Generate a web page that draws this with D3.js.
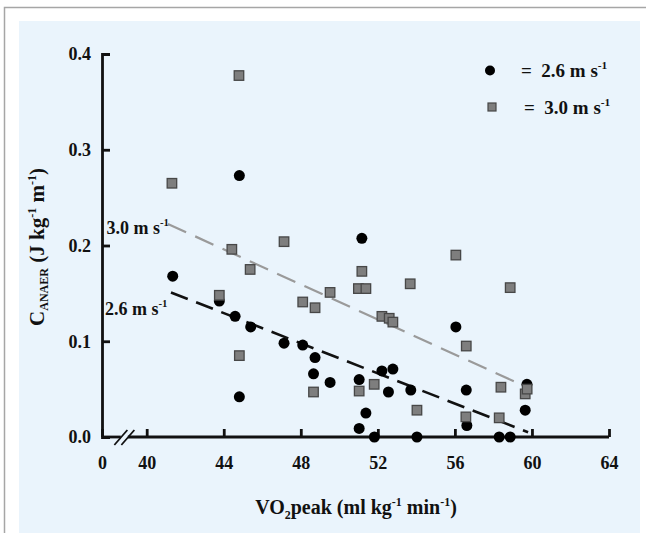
<!DOCTYPE html>
<html>
<head>
<meta charset="utf-8">
<script src="https://cdn.jsdelivr.net/npm/d3@7"></script>
<style>
  html, body { margin: 0; padding: 0; background: #fff; }
  svg { display: block; }
</style>
</head>
<body>
<div id="chart"></div>
<script>
// Data: CANAER vs VO2peak at two running speeds
const speed26X = [41.35, 43.77, 44.59, 44.81, 44.81, 45.40, 47.13, 48.10, 48.66, 48.74, 49.52,
                  51.03, 51.03, 51.17, 51.38, 51.82, 52.21, 52.55, 52.78, 53.71, 54.03,
                  56.05, 56.59, 56.62, 58.30, 58.87, 59.65, 59.74];
const speed26Y = [0.168, 0.142, 0.126, 0.273, 0.042, 0.115, 0.098, 0.096, 0.066, 0.083, 0.057,
                  0.060, 0.009, 0.2075, 0.025, 0.000, 0.069, 0.047, 0.071, 0.049, 0.000,
                  0.115, 0.049, 0.012, 0.000, 0.000, 0.028, 0.055];

const speed30X = [41.31, 43.77, 44.42, 44.79, 44.81, 45.37, 47.13, 48.10, 48.66, 48.74, 49.52,
                  50.99, 51.03, 51.17, 51.38, 51.81, 52.21, 52.59, 52.78, 53.68, 54.03,
                  56.05, 56.57, 56.59, 58.30, 58.39, 58.87, 59.65, 59.75];
const speed30Y = [0.265, 0.148, 0.196, 0.3775, 0.085, 0.175, 0.204, 0.141, 0.047, 0.135, 0.151,
                  0.155, 0.048, 0.173, 0.155, 0.055, 0.126, 0.124, 0.120, 0.160, 0.028,
                  0.190, 0.021, 0.095, 0.020, 0.052, 0.156, 0.045, 0.050];

// regression lines (end points)
const fit26X = [41.26, 59.8];
const fit26Y = [0.151, 0.005];
const fit30X = [41.1, 59.3];
const fit30Y = [0.2225, 0.056];

const xTicks = [0, 40, 44, 48, 52, 56, 60, 64];
const yTicks = [0, 0.1, 0.2, 0.3, 0.4];

const width = 646, height = 533;
const serif = "'Liberation Serif', 'Times New Roman', serif";

const svg = d3.select('#chart').append('svg')
    .attr('width', width)
    .attr('height', height);

// outer frame and light blue panel
svg.append('rect')
    .attr('x', 4.5).attr('y', 7.5)
    .attr('width', 660).attr('height', 560)
    .attr('fill', '#fff')
    .attr('stroke', '#a6a6a6')
    .attr('stroke-width', 1.5);
svg.append('rect')
    .attr('x', 19).attr('y', 21)
    .attr('width', 621).attr('height', 520)
    .attr('fill', '#eaf4fc');

// broken x scale: 0 then 40..64
const x = d3.scaleLinear().domain([0, 40, 64]).range([102, 146.7, 609]);
const y = d3.scaleLinear().domain([0, 0.4]).range([437, 54]);
const breakAt = 20;

// y axis
const yAxis = svg.append('g')
    .attr('transform', 'translate(' + x(0) + ',0)')
    .call(d3.axisLeft(y).tickValues(yTicks).tickFormat(d3.format('.1f'))
        .tickSize(-8).tickPadding(11));

// x axis (domain drawn by hand for the break)
const xAxis = svg.append('g')
    .attr('transform', 'translate(0,' + y(0) + ')')
    .call(d3.axisBottom(x).tickValues(xTicks).tickFormat(d3.format('d'))
        .tickSize(-8).tickSizeOuter(0).tickPadding(19));
xAxis.select('.domain').remove();

[yAxis, xAxis].forEach(function(g) {
    g.attr('font-family', serif).attr('font-size', 18).attr('font-weight', 'bold');
    g.selectAll('text').attr('fill', '#111');
    g.selectAll('line, path').attr('stroke', '#111').attr('stroke-width', 2.8);
});

const y0 = y(0);
const bx = x(breakAt);
svg.append('g').selectAll('line')
    .data([[x(0), bx - 3.5], [bx + 3.5, x(64)]])
    .enter().append('line')
    .attr('x1', function(d) { return d[0]; })
    .attr('x2', function(d) { return d[1]; })
    .attr('y1', y0).attr('y2', y0)
    .attr('stroke', '#111').attr('stroke-width', 2.8);
svg.append('g').selectAll('line')
    .data([bx - 3.5, bx + 3.5])
    .enter().append('line')
    .attr('x1', function(d) { return d - 6.5; })
    .attr('y1', y0 + 8)
    .attr('x2', function(d) { return d + 6.5; })
    .attr('y2', y0 - 7)
    .attr('stroke', '#111').attr('stroke-width', 1.8);

// regression lines
const line = d3.line()
    .x(function(d) { return x(d[0]); })
    .y(function(d) { return y(d[1]); });

svg.append('path')
    .datum(d3.zip(fit30X, fit30Y))
    .attr('d', line)
    .attr('fill', 'none')
    .attr('stroke', '#9a9a9a')
    .attr('stroke-width', 2.2)
    .attr('stroke-dasharray', '20,10');

svg.append('path')
    .datum(d3.zip(fit26X, fit26Y))
    .attr('d', line)
    .attr('fill', 'none')
    .attr('stroke', '#111')
    .attr('stroke-width', 2.6)
    .attr('stroke-dasharray', '18,9');

// points: circles first, squares on top
svg.append('g').selectAll('circle')
    .data(d3.zip(speed26X, speed26Y))
    .enter().append('circle')
    .attr('cx', function(d) { return x(d[0]); })
    .attr('cy', function(d) { return y(d[1]); })
    .attr('r', 5.5)
    .attr('fill', '#000');

const sq = 9.5;
svg.append('g').selectAll('rect')
    .data(d3.zip(speed30X, speed30Y))
    .enter().append('rect')
    .attr('x', function(d) { return x(d[0]) - sq / 2; })
    .attr('y', function(d) { return y(d[1]) - sq / 2; })
    .attr('width', sq).attr('height', sq)
    .attr('fill', '#7e7e7e')
    .attr('stroke', '#474747')
    .attr('stroke-width', 1.3);

// helper for "value m s-1" style labels
function unitLabel(g, px, py, str, size) {
    const t = g.append('text')
        .attr('x', px).attr('y', py)
        .attr('font-family', serif)
        .attr('font-weight', 'bold')
        .attr('font-size', size)
        .attr('fill', '#111');
    t.append('tspan').text(str);
    t.append('tspan').attr('dy', -8).attr('font-size', size * 0.6).text('-1');
    return t;
}

// line labels
unitLabel(svg, x(0) + 4.5, y(0.212), '3.0 m s', 18);
unitLabel(svg, x(0) + 3, y(0.127), '2.6 m s', 18);

// legend
const legend = svg.append('g');
legend.append('circle').attr('cx', 490).attr('cy', 70.5).attr('r', 5).attr('fill', '#000');
legend.append('rect').attr('x', 488).attr('y', 103).attr('width', 8).attr('height', 8)
    .attr('fill', '#7e7e7e').attr('stroke', '#474747').attr('stroke-width', 1.2);
unitLabel(legend, 521, 77, '=\u00a0\u00a02.6 m s', 19);
unitLabel(legend, 524, 114, '=\u00a0\u00a03.0 m s', 19);

// x title
const xt = svg.append('text')
    .attr('x', 356).attr('y', 514)
    .attr('text-anchor', 'middle')
    .attr('font-family', serif).attr('font-weight', 'bold')
    .attr('font-size', 20).attr('fill', '#111');
xt.append('tspan').text('VO');
xt.append('tspan').attr('dy', 5).attr('font-size', 12).text('2');
xt.append('tspan').attr('dy', -5).text('peak (ml kg');
xt.append('tspan').attr('dy', -8).attr('font-size', 12).text('-1');
xt.append('tspan').attr('dy', 8).text(' min');
xt.append('tspan').attr('dy', -8).attr('font-size', 12).text('-1');
xt.append('tspan').attr('dy', 8).text(')');

// y title
const yt = svg.append('text')
    .attr('transform', 'translate(44,247) rotate(-90)')
    .attr('text-anchor', 'middle')
    .attr('font-family', serif).attr('font-weight', 'bold')
    .attr('font-size', 21).attr('fill', '#111');
yt.append('tspan').text('C');
yt.append('tspan').attr('dy', 4).attr('font-size', 12).text('ANAER');
yt.append('tspan').attr('dy', -4).text(' (J kg');
yt.append('tspan').attr('dy', -8).attr('font-size', 12).text('-1');
yt.append('tspan').attr('dy', 8).text(' m');
yt.append('tspan').attr('dy', -8).attr('font-size', 12).text('-1');
yt.append('tspan').attr('dy', 8).text(')');
</script>
</body>
</html>
